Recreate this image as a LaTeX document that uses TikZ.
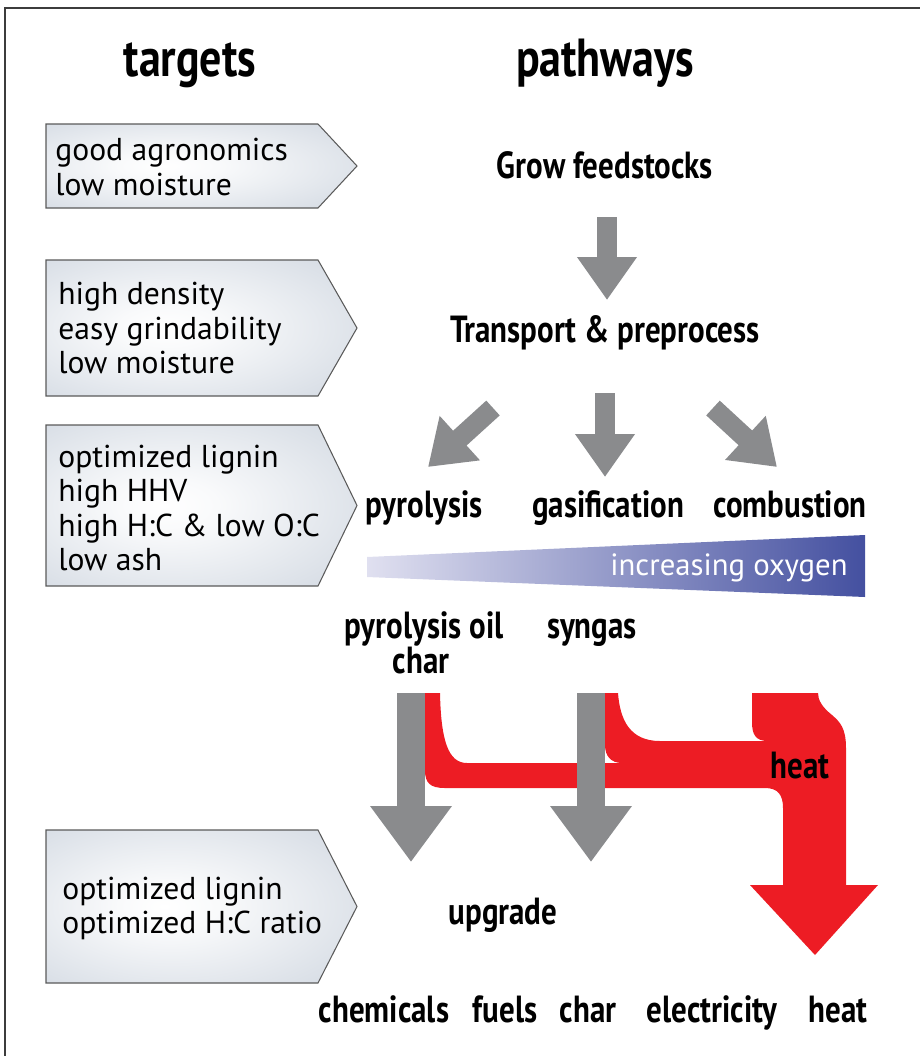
\documentclass[tikz,border=0pt]{standalone}
\usepackage{fontspec}
\setmainfont{PT Sans}
\newfontfamily\condfont[FakeStretch=0.82]{PT Sans}
\usetikzlibrary{arrows.meta,shadings}

\definecolor{arrowgray}{HTML}{8A8B8D}
\definecolor{heatred}{HTML}{ED1C24}
\definecolor{framegray}{HTML}{3C3C3C}
\definecolor{boxedge}{HTML}{5A5A5A}
\definecolor{boxfill}{HTML}{C3CCD8}
\definecolor{oxylow}{HTML}{E0E0F0}
\definecolor{oxyhigh}{HTML}{4450A0}

\pgfdeclareradialshading{targetglow}{\pgfpoint{-6bp}{0bp}}{%
  color(0bp)=(white); color(8bp)=(white!90!boxfill);
  color(50bp)=(boxfill); color(80bp)=(boxfill)}

\begin{document}
\begin{tikzpicture}[x=0.02cm, y=-0.02cm,
    headtext/.style={font=\condfont\bfseries\fontsize{30.5}{33}\selectfont, anchor=base, inner sep=0pt},
    pathtext/.style={font=\condfont\bfseries\fontsize{21.5}{22}\selectfont, anchor=base, inner sep=0pt},
    targettext/.style={font=\fontsize{18}{19.4}\selectfont, align=left, anchor=west, inner sep=0pt},
    targetbox/.style={shading=targetglow, draw=boxedge, line width=0.6pt},
    grayarrow/.style={draw=arrowgray, line width=0.4cm, -{Triangle[length=0.86cm,width=1.14cm]}},
    widearrow/.style={draw=arrowgray, line width=0.56cm, -{Triangle[length=1.12cm,width=1.56cm]}}]

\useasboundingbox (0,0) rectangle (920,1056);

% frame (only top and left edges fall inside)
\draw[framegray, line width=1.2pt] (5,1056) -- (5,8) -- (920,8);

% headings
\node[headtext] (targets) at (190,76) {targets};
\node[headtext] (pathways) at (605,76) {pathways};

% target boxes
\foreach \top/\bot in {124/208, 260/396, 425/586, 830/983}
    \shadedraw[targetbox] (46,\top) -- (318,\top) -- (357,{(\top+\bot)/2})
        -- (318,\bot) -- (46,\bot) -- cycle;

\node[targettext] (target1) at (55,167) {good agronomics\\low moisture};
\node[targettext] (target2) at (58,328) {high density\\easy grindability\\low moisture};
\node[targettext] (target3) at (58,508) {optimized lignin\\high HHV\\high H:C \& low O:C\\low ash};
\node[targettext] (target4) at (62,908) {optimized lignin\\optimized H:C ratio};

% pathway steps
\node[pathtext] (grow) at (605,178) {Grow feedstocks};
\node[pathtext] (transport) at (605,342) {Transport \& preprocess};
\node[pathtext] (pyrolysis) at (424,517) {pyrolysis};
\node[pathtext] (gasification) at (608,517) {gasification};
\node[pathtext] (combustion) at (790,517) {combustion};

% increasing oxygen wedge
\shade[left color=oxylow, right color=oxyhigh]
    (367,557) -- (865,535) -- (865,597) -- (367,577) -- cycle;
\node[font=\fontsize{17.5}{20}\selectfont, text=white, anchor=base east, inner sep=0pt]
    (oxygen) at (848,575) {increasing oxygen};

% products
\node[pathtext] (pyrooil) at (424,638) {pyrolysis oil};
\node[pathtext] (char) at (421,673) {char};
\node[pathtext] (syngas) at (592,638) {syngas};

% arrow ends
\coordinate (a1s) at (607,217);
\coordinate (a1e) at (607,300);
\coordinate (a2s) at (605,393);
\coordinate (a2e) at (605,477);
\coordinate (a3s) at (493,408);
\coordinate (a3e) at (428,467);
\coordinate (a4s) at (713,408);
\coordinate (a4e) at (777,467);
\coordinate (a5s) at (411,693);
\coordinate (a5e) at (411,862);
\coordinate (a6s) at (591,693);
\coordinate (a6e) at (591,862);

% heat flow (one filled shape)
\fill[heatred] (425,693) -- (425,770)
    .. controls (425,783) and (430,788) .. (445,788)
    -- (765,788)
    .. controls (778,788) and (783,795) .. (783,808)
    -- (783,885) -- (750,885) -- (815,955) -- (878,885) -- (846,885)
    -- (846,748)
    .. controls (846,728) and (840,722) .. (832,715)
    .. controls (822,707) and (818,700) .. (818,693)
    -- (752,693) -- (752,722)
    .. controls (752,735) and (756,741) .. (768,741)
    -- (660,741)
    .. controls (630,741) and (620,720) .. (618,693)
    -- (605,693) -- (605,745)
    .. controls (605,756) and (611,763) .. (622,763)
    -- (467,763)
    .. controls (448,763) and (441,740) .. (440,693)
    -- cycle;

% gray arrows
\draw[grayarrow] (a1s) -- (a1e);
\draw[grayarrow] (a2s) -- (a2e);
\draw[grayarrow] (a3s) -- (a3e);
\draw[grayarrow] (a4s) -- (a4e);
\draw[widearrow] (a5s) -- (a5e);
\draw[widearrow] (a6s) -- (a6e);

\node[pathtext] (heatflow) at (800,778) {heat};
\node[pathtext] (upgrade) at (503,924) {upgrade};

% end uses
\node[pathtext] (chemicals) at (384,1022) {chemicals};
\node[pathtext] (fuels) at (505,1022) {fuels};
\node[pathtext] (charout) at (588,1022) {char};
\node[pathtext] (electricity) at (712,1022) {electricity};
\node[pathtext] (heatout) at (838,1022) {heat};

\end{tikzpicture}
\end{document}
